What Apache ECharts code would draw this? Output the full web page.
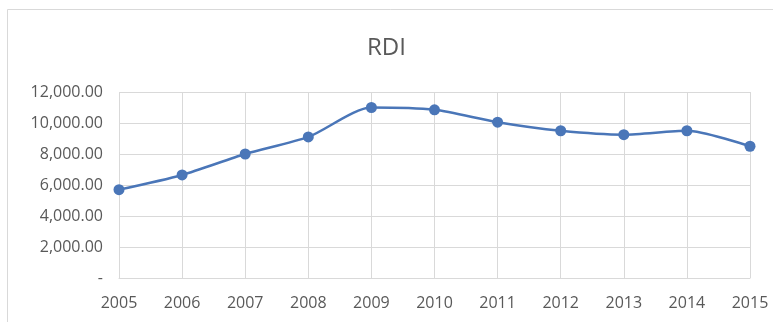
<!DOCTYPE html>
<html>
<head>
<meta charset="utf-8">
<script src="https://cdn.jsdelivr.net/npm/echarts@6/dist/echarts.min.js"></script>
<style>
  html, body { margin: 0; padding: 0; background: #fff; }
  #chart { width: 773px; height: 322px; }
</style>
</head>
<body>
<div id="chart"></div>
<script>
// Annual RDI values
const years = ['2005', '2006', '2007', '2008', '2009', '2010', '2011', '2012', '2013', '2014', '2015'];
const rdiValues = [5700, 6650, 8000, 9100, 11000, 10850, 10050, 9500, 9250, 9500, 8500];
const chartTitle = 'RDI';

const textColor = '#595959';
const fontFamily = '"Open Sans", "Liberation Sans", sans-serif';

function formatValue(v) {
  if (v === 0) return '-';
  return v.toLocaleString('en-US', { minimumFractionDigits: 2, maximumFractionDigits: 2 });
}

const chart = echarts.init(document.getElementById('chart'), null, { renderer: 'canvas' });
chart.setOption({
  animation: false,
  backgroundColor: '#fff',
  title: {
    text: chartTitle,
    left: 'center',
    top: 31,
    textStyle: { color: textColor, fontSize: 24, fontWeight: 'normal', fontFamily: fontFamily }
  },
  graphic: [{
    type: 'rect',
    shape: { x: 7.5, y: 9.5, width: 770, height: 330 },
    style: { fill: 'none', stroke: '#d9d9d9', lineWidth: 1 },
    silent: true
  }],
  grid: { left: 119, right: 23, top: 92, bottom: 44 },
  xAxis: {
    type: 'category',
    data: years,
    boundaryGap: false,
    axisLine: { show: true, lineStyle: { color: '#d9d9d9' } },
    axisTick: { show: false },
    splitLine: { show: true, lineStyle: { color: '#d9d9d9' } },
    axisLabel: { color: textColor, fontSize: 16, fontFamily: fontFamily, margin: 17 }
  },
  yAxis: {
    type: 'value',
    min: 0,
    max: 12000,
    interval: 2000,
    axisLine: { show: false },
    axisTick: { show: false },
    splitLine: { show: true, lineStyle: { color: '#d9d9d9' } },
    axisLabel: { color: textColor, fontSize: 16, fontFamily: fontFamily, margin: 16, formatter: formatValue }
  },
  series: [{
    type: 'line',
    data: rdiValues,
    smooth: 0.25,
    symbol: 'circle',
    symbolSize: 11,
    lineStyle: { color: '#4a76b8', width: 2.5 },
    itemStyle: { color: '#4a76b8' }
  }]
});
</script>
</body>
</html>
